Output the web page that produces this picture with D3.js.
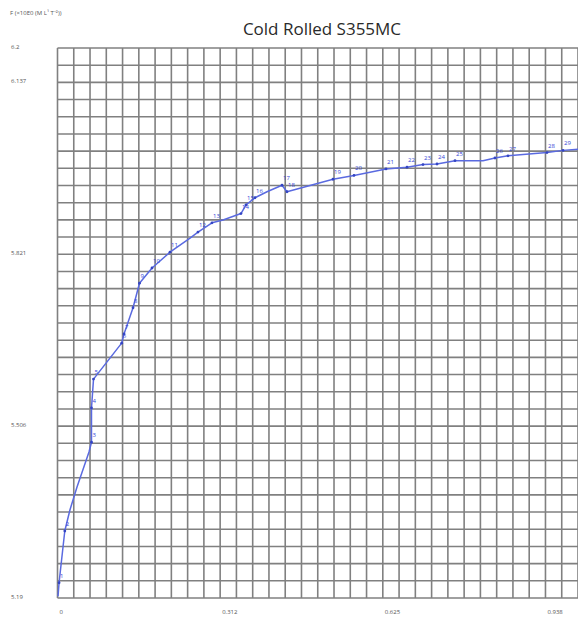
<!DOCTYPE html>
<html>
<head>
<meta charset="utf-8">
<script src="https://cdn.jsdelivr.net/npm/d3@7"></script>
<style>
  body { margin: 0; background: #fff; }
  svg { display: block; }
</style>
</head>
<body>
<svg id="chart" width="578" height="624"></svg>
<script>
// -- data -- //
let strain = [0.001, 0.003, 0.014, 0.024, 0.0375, 0.0605, 0.0653, 0.0653, 0.0692, 0.1233,
    0.1278, 0.1451, 0.1575, 0.1816, 0.2161, 0.2546, 0.2699, 0.2968, 0.318, 0.3525,
    0.3622, 0.3794, 0.4025, 0.4313, 0.4409, 0.5293, 0.5696, 0.6311, 0.6715, 0.7022,
    0.7291, 0.7637, 0.8175, 0.8405, 0.8655, 0.9404, 0.9712, 1.0];
let force = [5.193, 5.218, 5.313, 5.352, 5.394, 5.458, 5.476, 5.539, 5.592, 5.658,
    5.675, 5.723, 5.768, 5.796, 5.825, 5.851, 5.862, 5.879, 5.884, 5.896,
    5.912, 5.925, 5.936, 5.948, 5.936, 5.959, 5.966, 5.978, 5.981, 5.986,
    5.987, 5.993, 5.993, 5.998, 6.002, 6.008, 6.012, 6.014];
// point numbers written next to the curve ('' = plain vertex)
let pointNames = ['', '1', '2', '', '', '', '3', '4', '5', '6',
    '7', '8', '9', '10', '11', '', '12', '13', '', '14',
    '15', '16', '', '17', '18', '19', '20', '21', '22', '23',
    '24', '25', '', '26', '27', '28', '29', ''];

let xTicks = [0, 0.3125, 0.625, 0.9375];
let xTickLabels = ['0', '0.312', '0.625', '0.938'];
let yTicks = [5.19, 5.505625, 5.82125, 6.136875, 6.2];
let yTickLabels = ['5.19', '5.506', '5.821', '6.137', '6.2'];

let chartTitle = 'Cold Rolled S355MC';
let yTitle = 'F (×10E0 (M L¹ T⁻²))';

// -- layout -- //
let svg = d3.select('#chart');
let plotLeft = 57.5, plotRight = 578, plotTop = 48, plotBottom = 598;
let divisions = 32;

let xScale = d3.scaleLinear().domain([0, 1]).range([plotLeft, plotRight]);
let yScale = d3.scaleLinear().domain([5.19, 6.2]).range([plotBottom, plotTop]);

// -- title -- //
svg.append('text')
    .attr('x', 322)
    .attr('y', 35)
    .attr('text-anchor', 'middle')
    .style('font-family', 'Open Sans, sans-serif')
    .style('font-size', '17px')
    .style('fill', '#2a2a2a')
    .text(chartTitle);

svg.append('text')
    .attr('x', 10)
    .attr('y', 15)
    .style('font-family', 'Open Sans, sans-serif')
    .style('font-size', '6px')
    .style('fill', '#555')
    .text(yTitle);

// -- grid -- //
let grid = svg.append('g');
let xStep = (xScale.domain()[1] - xScale.domain()[0]) / divisions;
let yStep = (yScale.domain()[1] - yScale.domain()[0]) / divisions;

grid.selectAll('.vline')
    .data(d3.range(divisions + 1).map(i => i * xStep))
    .enter().append('line')
    .attr('class', 'vline')
    .attr('x1', d => xScale(d)).attr('x2', d => xScale(d))
    .attr('y1', plotTop).attr('y2', plotBottom)
    .style('stroke', '#808080')
    .style('stroke-width', '1.6');

grid.selectAll('.hline')
    .data(d3.range(divisions + 1).map(i => 5.19 + i * yStep))
    .enter().append('line')
    .attr('class', 'hline')
    .attr('x1', plotLeft).attr('x2', plotRight)
    .attr('y1', d => yScale(d)).attr('y2', d => yScale(d))
    .style('stroke', '#808080')
    .style('stroke-width', '1.6');

// -- tick labels -- //
svg.selectAll('.xlab')
    .data(xTicks)
    .enter().append('text')
    .attr('class', 'xlab')
    .attr('x', d => xScale(d) + 2)
    .attr('y', 614)
    .style('font-family', 'Open Sans, sans-serif')
    .style('font-size', '6px')
    .style('fill', '#555')
    .text((d, i) => xTickLabels[i]);

svg.selectAll('.ylab')
    .data(yTicks)
    .enter().append('text')
    .attr('class', 'ylab')
    .attr('x', 11)
    .attr('y', d => yScale(d) + 1)
    .style('font-family', 'Open Sans, sans-serif')
    .style('font-size', '6px')
    .style('fill', '#555')
    .text((d, i) => yTickLabels[i]);

// -- curve -- //
let points = strain.map((s, i) => ({ x: s, y: force[i], name: pointNames[i] }));

let line = d3.line()
    .x(d => xScale(d.x))
    .y(d => yScale(d.y));

svg.append('path')
    .datum(points)
    .attr('d', line)
    .style('fill', 'none')
    .style('stroke', '#5a6ae0')
    .style('stroke-width', '1.5')
    .style('stroke-linejoin', 'round');

let named = points.filter(d => d.name !== '');

svg.selectAll('.point')
    .data(named)
    .enter().append('circle')
    .attr('class', 'point')
    .attr('cx', d => xScale(d.x))
    .attr('cy', d => yScale(d.y))
    .attr('r', '1.4')
    .style('fill', '#3445c4');

svg.selectAll('.pname')
    .data(named)
    .enter().append('text')
    .attr('class', 'pname')
    .attr('x', d => xScale(d.x) + 1)
    .attr('y', d => yScale(d.y) - 5)
    .style('font-family', 'Open Sans, sans-serif')
    .style('font-size', '6px')
    .style('fill', '#3446d6')
    .text(d => d.name);
</script>
</body>
</html>
